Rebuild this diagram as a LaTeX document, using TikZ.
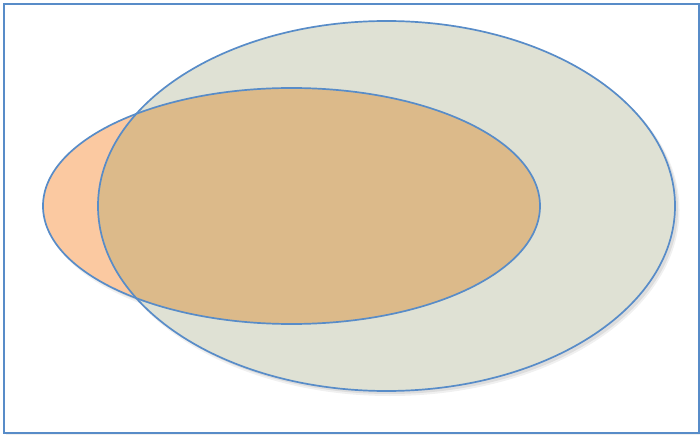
\documentclass[tikz,border=0pt]{standalone}
\begin{document}
\begin{tikzpicture}[x=1pt,y=-1pt,
  outline/.style={draw=outl, line width=1.7pt}]
\definecolor{outl}{RGB}{88,140,200}
\definecolor{peach}{RGB}{251,201,161}
\definecolor{sage}{RGB}{223,225,212}
\definecolor{tan}{RGB}{220,186,138}
\useasboundingbox (0,0) rectangle (700,435);
\fill[white] (0,0) rectangle (700,435);
% frame
\fill[black,opacity=0.06] (6,7) rectangle (701,436);
\draw[draw=outl, line width=2pt, fill=white] (3.5,4) rectangle (698.5,432.5);
% shadows
\fill[black,opacity=0.06] (390,210) ellipse [x radius=289.5, y radius=186];
\fill[black,opacity=0.08] (389.5,209) ellipse [x radius=288.5, y radius=185];
\fill[black,opacity=0.06] (295,210) ellipse [x radius=249.5, y radius=119];
\fill[black,opacity=0.08] (294.5,209) ellipse [x radius=248.5, y radius=118];
% fills
\fill[sage] (386.5,206) ellipse [x radius=288.5, y radius=185];
\fill[peach] (291.5,206) ellipse [x radius=248.5, y radius=118];
\begin{scope}
  \clip (386.5,206) ellipse [x radius=288.5, y radius=185];
  \fill[tan] (291.5,206) ellipse [x radius=248.5, y radius=118];
\end{scope}
% outlines
\draw[outline] (386.5,206) ellipse [x radius=288.5, y radius=185];
\draw[outline] (291.5,206) ellipse [x radius=248.5, y radius=118];
\end{tikzpicture}
\end{document}
